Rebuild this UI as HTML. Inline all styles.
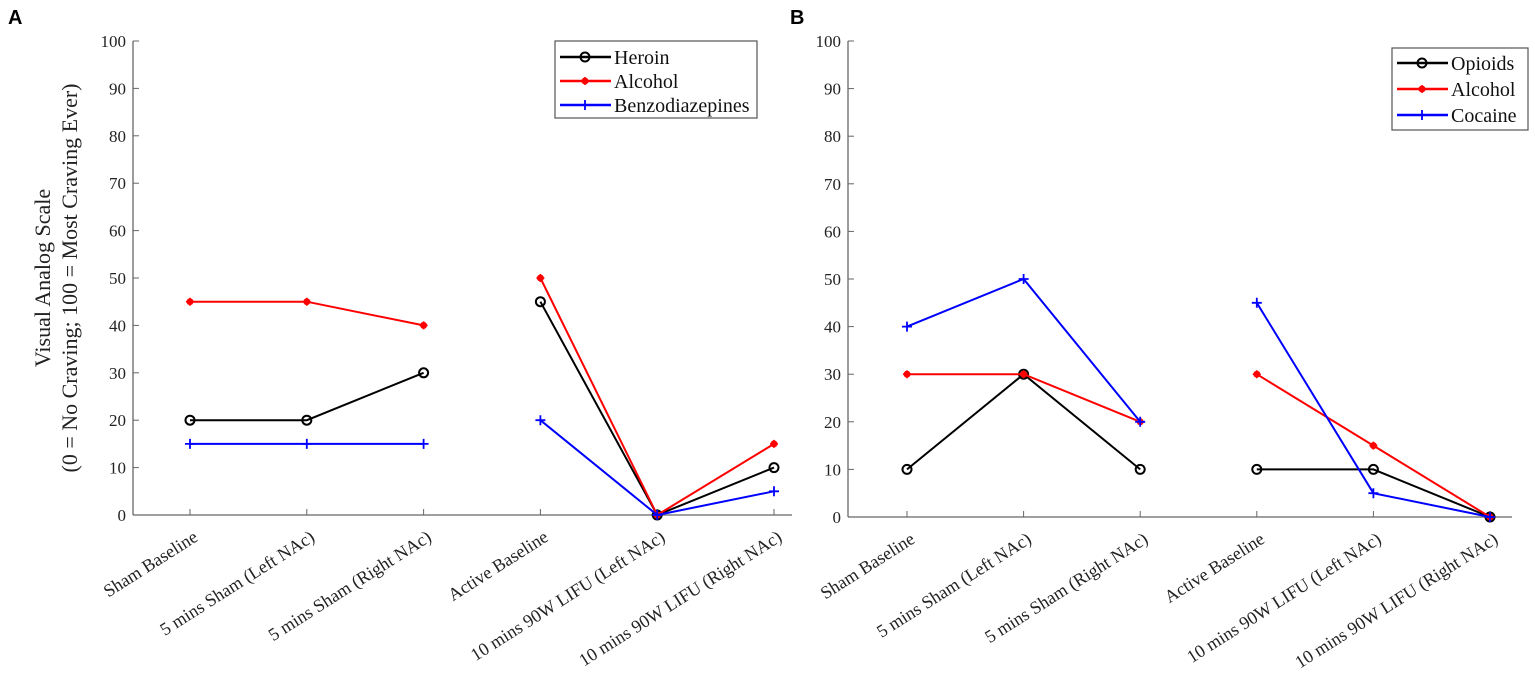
<!DOCTYPE html>
<html><head><meta charset="utf-8"><style>
body{margin:0;background:#fff;}
text{font-family:"Liberation Serif",serif;}
</style></head><body>
<svg id="svg" width="1535" height="669" xmlns="http://www.w3.org/2000/svg"></svg>
<script>
const categories=["Sham Baseline","5 mins Sham (Left NAc)","5 mins Sham (Right NAc)","Active Baseline","10 mins 90W LIFU (Left NAc)","10 mins 90W LIFU (Right NAc)"];
const yTicks=[0,10,20,30,40,50,60,70,80,90,100];
const aHeroin=[20,20,30,45,0,10];
const aAlcohol=[45,45,40,50,0,15];
const aBenzo=[15,15,15,20,0,5];
const bOpioids=[10,30,10,10,10,0];
const bAlcohol=[30,30,20,30,15,0];
const bCocaine=[40,50,20,45,5,0];
const aNames=["Heroin","Alcohol","Benzodiazepines"];
const bNames=["Opioids","Alcohol","Cocaine"];
const NS="http://www.w3.org/2000/svg";
const svg=document.getElementById('svg');
function mk(tag,attrs,parent){const e=document.createElementNS(NS,tag);for(const k in attrs)e.setAttribute(k,attrs[k]);(parent||svg).appendChild(e);return e;}
const colors=["#000","#f00","#00f"];
function marker(g,kind,x,y,c){
  if(kind===0)mk('circle',{cx:x,cy:y,r:4.5,fill:'none',stroke:c,'stroke-width':2},g);
  else if(kind===1){mk('circle',{cx:x,cy:y,r:3.5,fill:c},g);mk('path',{d:`M${x-4} ${y}H${x+4}M${x} ${y-4}V${y+4}`,stroke:c,'stroke-width':1.5},g);}
  else mk('path',{d:`M${x-5} ${y}H${x+5}M${x} ${y-5}V${y+5}`,stroke:c,'stroke-width':1.8},g);
}
function panel(id,ax0,ax1,x0,dx,yb,yt,series,names,leg){
  const g=mk('g',{});
  
  
  const xS=i=>x0+i*dx;
  const yS=v=>yb+(yt-yb)*v/100;
  const ya=mk('line',{x1:ax0,y1:yt,x2:ax0,y2:yb,stroke:'#666','stroke-width':1.3},g);
  
  
  const xa=mk('line',{x1:ax0,y1:yb,x2:ax1,y2:yb,stroke:'#666','stroke-width':1.3},g);
  
  
  yTicks.forEach(v=>{
    mk('line',{x1:ax0,y1:yS(v),x2:ax0+6,y2:yS(v),stroke:'#666'},g);
    const t=mk('text',{x:ax0-7,y:yS(v)+6,'text-anchor':'end','font-size':17,fill:'#222'},g);
    t.textContent=v;
    
    
  });
  categories.forEach((c,i)=>{
    mk('line',{x1:xS(i),y1:yb,x2:xS(i),y2:yb-6,stroke:'#666'},g);
    const t=mk('text',{x:0,y:0,'text-anchor':'end','font-size':18,fill:'#222',transform:`translate(${xS(i)+9},${yb+25}) rotate(-32.5)`},g);
    t.textContent=c;
    
    
  });
  series.forEach((s,k)=>{
    const c=colors[k];
    const sg=mk('g',{},g);
    
    
    [[0,3],[3,6]].forEach(([a,b])=>{
      let d='';for(let i=a;i<b;i++)d+=(i===a?'M':'L')+xS(i)+' '+yS(s[i]);
      mk('path',{d,fill:'none',stroke:c,'stroke-width':2},sg);
    });
    s.forEach((v,i)=>marker(sg,k,xS(i),yS(v),c));
  });
  const lg=mk('g',{},g);
  
  
  mk('rect',{x:leg[0],y:leg[1],width:leg[2],height:leg[3],fill:'#fff',stroke:'#555','stroke-width':1.2},lg);
  names.forEach((n,k)=>{
    const y=leg[1]+leg[4]+k*leg[5];
    const e=mk('g',{},lg);
    
    
    mk('line',{x1:leg[0]+5,y1:y,x2:leg[0]+56,y2:y,stroke:colors[k],'stroke-width':2.5},e);
    marker(e,k,leg[0]+30,y,colors[k]);
    const t=mk('text',{x:leg[0]+59,y:y+7,'font-size':20,fill:'#111'},e);
    t.textContent=n;
  });
}
panel('a',133,792,190,116.8,515,41,[aHeroin,aAlcohol,aBenzo],aNames,[555,41,202,77,16,24]);
panel('b',848,1512,907,116.6,517,41,[bOpioids,bAlcohol,bCocaine],bNames,[1392,48,136,82,15,26]);
const yl=mk('text',{'text-anchor':'middle','font-size':22,fill:'#222'});


yl.innerHTML='<tspan x="-278" y="50">Visual Analog Scale</tspan><tspan x="-278" y="77">(0 = No Craving; 100 = Most Craving Ever)</tspan>';
yl.setAttribute('transform','rotate(-90)');
[['A',8],['B',790]].forEach(([l,x])=>{
  const t=mk('text',{x,y:24,'font-size':20,'font-weight':'bold',fill:'#000',style:'font-family:"Liberation Sans",sans-serif'});
  t.textContent=l;
  
  
});
</script>
</body></html>
